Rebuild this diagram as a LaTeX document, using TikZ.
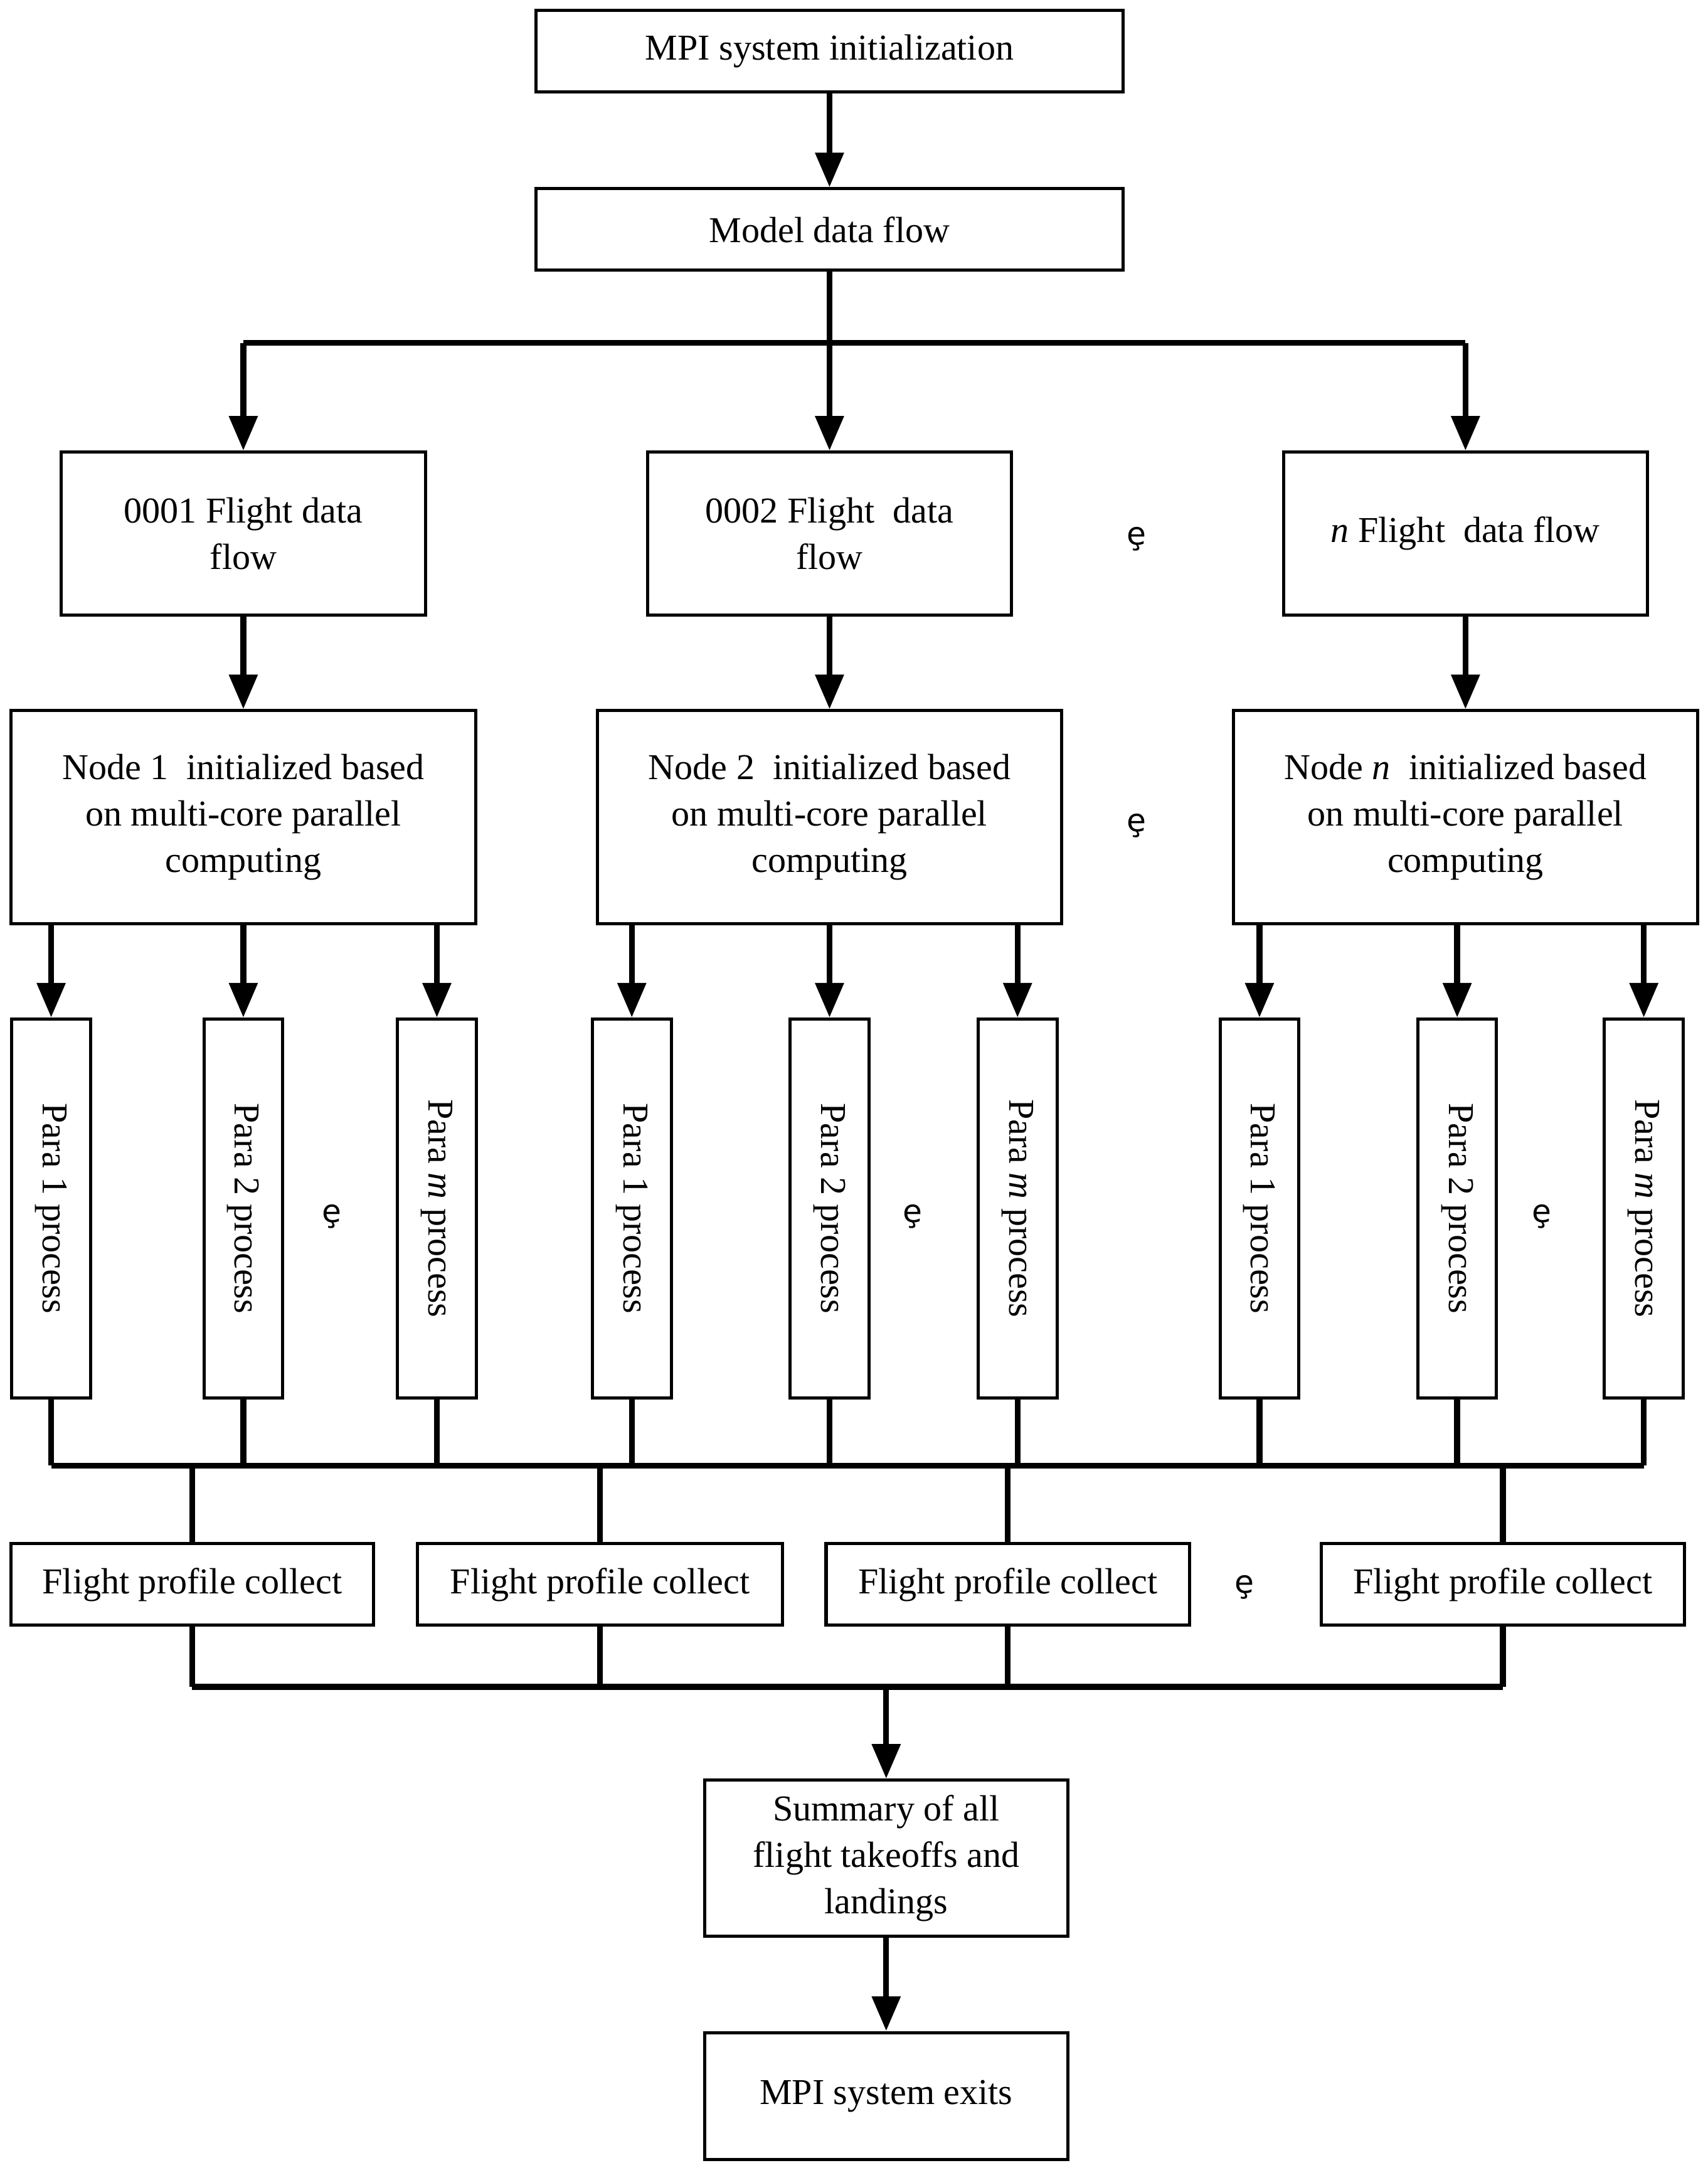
\documentclass[tikz,border=0pt]{standalone}
\usepackage{fontspec}
\setmainfont{Liberation Serif}
\newfontfamily\dotsfont{DejaVu Sans}
\usetikzlibrary{arrows.meta}
\tikzset{
  box/.style={draw, line width=1.3pt, align=center, inner sep=0pt, font=\fontsize{15}{19}\selectfont},
  parabox/.style={box, minimum width=1.14cm, minimum height=5.48cm, rotate=-90, minimum width=5.48cm, minimum height=1.14cm},
  flow/.style={line width=2.4pt, -{Triangle[length=0.5cm, width=0.4cm]}},
  wire/.style={line width=2.4pt},
  skip/.style={font=\dotsfont\fontsize{13}{15}\selectfont},
}
\begin{document}
\begin{tikzpicture}[x=0.02cm, y=-0.02cm]
  \useasboundingbox (0,0) rectangle (1235,1568);
  \node[box, minimum width=8.5cm, minimum height=1.18cm] (init) at (600,37) {MPI system initialization};
  \node[box, minimum width=8.5cm, minimum height=1.18cm] (model) at (600,166) {Model data flow};
  \coordinate (split) at (600,248);
  % flight data flows
  \node[box, minimum width=5.28cm, minimum height=2.36cm] (f1) at (176,386) {0001 Flight data\\flow};
  \node[box, minimum width=5.26cm, minimum height=2.36cm] (f2) at (600,386) {0002 Flight\ \ data\\flow};
  \node[box, minimum width=5.26cm, minimum height=2.36cm] (fn) at (1060,386) {\textit{n} Flight\ \ data flow};
  \node[skip] (d1) at (822,390) {ȩ};
  % computing nodes
  \node[box, minimum width=6.72cm, minimum height=3.08cm] (n1) at (176,591) {Node 1\ \ initialized based\\on multi-core parallel\\computing};
  \node[box, minimum width=6.72cm, minimum height=3.08cm] (n2) at (600,591) {Node 2\ \ initialized based\\on multi-core parallel\\computing};
  \node[box, minimum width=6.72cm, minimum height=3.08cm] (nn) at (1060,591) {Node \textit{n}\ \ initialized based\\on multi-core parallel\\computing};
  \node[skip] (d2) at (822,597) {ȩ};
  % parallel processes
  \foreach \grp/\xa/\xb/\xc/\xd in {1/37/176/316/240, 2/457/600/736/660, n/911/1054/1189/1115} {
    \node[parabox] (p\grp a) at (\xa,874) {Para 1 process};
    \node[parabox] (p\grp b) at (\xb,874) {Para 2 process};
    \node[parabox] (p\grp c) at (\xc,874) {Para \textit{m} process};
    \node[skip] at (\xd,880) {ȩ};
    \foreach \k in {a,b,c} {
      \draw[flow] (n\grp.south -| p\grp\k) -- (p\grp\k.west);
      \draw[wire] (p\grp\k.east) -- (p\grp\k.east |- 0,1060);
    }
  }
  \draw[wire] (37,1060) -- (1189,1060);
  % collectors
  \node[box, minimum width=5.24cm, minimum height=1.18cm] (c1) at (139,1146) {Flight profile collect};
  \node[box, minimum width=5.28cm, minimum height=1.18cm] (c2) at (434,1146) {Flight profile collect};
  \node[box, minimum width=5.26cm, minimum height=1.18cm] (c3) at (729,1146) {Flight profile collect};
  \node[box, minimum width=5.26cm, minimum height=1.18cm] (c4) at (1087,1146) {Flight profile collect};
  \node[skip] (d3) at (900,1148) {ȩ};
  \foreach \c in {c1,c2,c3,c4} {
    \draw[wire] (\c.north |- 0,1060) -- (\c.north);
    \draw[wire] (\c.south) -- (\c.south |- 0,1220);
  }
  \draw[wire] (139,1220) -- (1087,1220);
  \coordinate (join) at (641,1220);
  \node[box, minimum width=5.26cm, minimum height=2.26cm] (sum) at (641,1344) {Summary of all\\flight takeoffs and\\landings};
  \node[box, minimum width=5.26cm, minimum height=1.84cm] (exit) at (641,1516) {MPI system exits};
  % main flow
  \draw[flow] (init) -- (model);
  \draw[wire] (model) -- (split);
  \draw[wire] (176,248) -- (1060,248);
  \draw[flow] (split) -- (f2);
  \draw[flow] (176,248) -- (f1);
  \draw[flow] (1060,248) -- (fn);
  \draw[flow] (f1) -- (n1);
  \draw[flow] (f2) -- (n2);
  \draw[flow] (fn) -- (nn);
  \draw[flow] (join) -- (sum);
  \draw[flow] (sum) -- (exit);
\end{tikzpicture}
\end{document}
